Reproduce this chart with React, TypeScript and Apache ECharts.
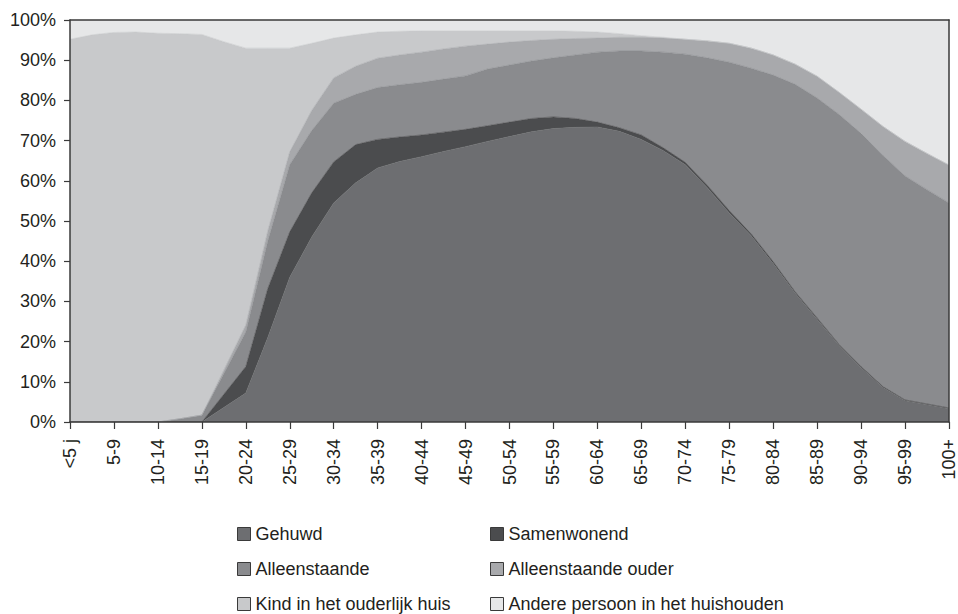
import React, { useEffect, useRef } from "react";
import * as echarts from "echarts";

// age groups shown on the axis (one label every 5 years)
const categories = [
  "<5 j", "5-9", "10-14", "15-19", "20-24", "25-29", "30-34", "35-39", "40-44", "45-49",
  "50-54", "55-59", "60-64", "65-69", "70-74", "75-79", "80-84", "85-89", "90-94", "95-99", "100+",
];

// sample positions: every 2.5 years of age (0 .. 100)
const ages = [
  "0", "2.5", "5", "7.5", "10", "12.5", "15", "17.5", "20", "22.5", "25", "27.5", "30", "32.5", "35", "37.5",
  "40", "42.5", "45", "47.5", "50", "52.5", "55", "57.5", "60", "62.5", "65", "67.5", "70", "72.5", "75",
  "77.5", "80", "82.5", "85", "87.5", "90", "92.5", "95", "97.5", "100",
];

const gehuwd = [0, 0, 0, 0, 0, 0, 0, 3.6, 7.2, 21, 36, 46, 54.5, 59.5, 63.2, 64.8, 66, 67.3, 68.5, 69.8, 71, 72.2, 73, 73.3, 73.4, 72.3, 70.3, 67.5, 64, 58.3, 52, 46.3, 39.4, 32, 25.5, 19, 13.5, 8.6, 5.3, 4.3, 3.3];
const samenwonend = [0, 0, 0, 0, 0, 0, 0, 3.3, 6.6, 12.2, 11.3, 11, 10.2, 9.5, 7.1, 6.1, 5.4, 4.8, 4.3, 3.9, 3.6, 3.3, 2.9, 2.2, 1.2, 0.9, 1.1, 0.7, 0.6, 0.6, 0.6, 0.5, 0.5, 0.4, 0.4, 0.3, 0.3, 0.2, 0.2, 0.2, 0.2];
const alleenstaande = [0, 0, 0, 0, 0, 0.8, 1.7, 5.1, 8.6, 11.8, 16.7, 15.5, 14.6, 12.5, 12.9, 13, 13.1, 13.2, 13.3, 14.1, 14.2, 14.3, 14.7, 15.8, 17.4, 19.1, 20.9, 23.8, 26.9, 31.7, 36.9, 41.2, 46.4, 51.6, 54.7, 57.2, 58, 57.5, 55.7, 53.3, 51];
const alleenstaandeOuder = [0, 0, 0, 0, 0, 0, 0, 0.9, 1.7, 2.5, 3.2, 5, 6.3, 7, 7.3, 7.4, 7.5, 7.5, 7.4, 6.2, 5.7, 5.1, 4.6, 4.1, 3.5, 3.4, 3.4, 3.5, 3.7, 4.2, 4.7, 5, 5, 5, 5.4, 5.5, 6, 7.2, 8.6, 9, 9.4];
const kind = [95.2, 96.3, 96.9, 97, 96.7, 95.8, 94.7, 81.7, 68.9, 45.5, 25.8, 16.7, 9.9, 7.8, 6.5, 5.9, 5.3, 4.5, 3.8, 3.3, 2.8, 2.4, 2.1, 1.8, 1.5, 0.9, 0.4, 0.2, 0, 0, 0, 0, 0, 0, 0, 0, 0, 0, 0, 0, 0];
const andere = [4.8, 3.7, 3.1, 3, 3.3, 3.4, 3.6, 5.4, 7, 7, 7, 5.8, 4.5, 3.7, 3, 2.8, 2.7, 2.7, 2.7, 2.7, 2.7, 2.7, 2.7, 2.8, 3, 3.4, 3.9, 4.3, 4.8, 5.2, 5.8, 7, 8.7, 11, 14, 18, 22.2, 26.5, 30.2, 33.2, 36.1];

const seriesNames = [
  "Gehuwd",
  "Samenwonend",
  "Alleenstaande",
  "Alleenstaande ouder",
  "Kind in het ouderlijk huis",
  "Andere persoon in het huishouden",
];
const seriesValues = [gehuwd, samenwonend, alleenstaande, alleenstaandeOuder, kind, andere];
const colors = ["#6d6e71", "#4b4c4e", "#8a8b8e", "#a8a9ac", "#c8c9cb", "#e6e7e8"];

const FONT = "'Liberation Sans', Arial, Helvetica, sans-serif";
const TEXT = "#231f20";
const AXIS = "#3a3a3a";

export default function App() {
  const ref = useRef<HTMLDivElement>(null);

  useEffect(() => {
    if (!ref.current) return;
    const chart = echarts.init(ref.current, null, { renderer: "svg" });

    const series = seriesNames.map((name, si) => ({
      name,
      type: "line",
      stack: "total",
      symbol: "none",
      showSymbol: false,
      data: seriesValues[si],
      lineStyle: { width: 0.6, color: colors[si] },
      itemStyle: { color: colors[si] },
      areaStyle: { color: colors[si], opacity: 1 },
      emphasis: { disabled: true },
    }));

    const legendCommon = {
      orient: "vertical",
      icon: "rect",
      itemWidth: 13,
      itemHeight: 13,
      itemGap: 17,
      top: 525,
      height: 120,
      padding: 0,
      selectedMode: false,
      textStyle: { fontSize: 18, color: TEXT, fontFamily: FONT },
      itemStyle: { borderColor: "#3a3a3a", borderWidth: 1 },
    };

    chart.setOption({
      animation: false,
      textStyle: { fontFamily: FONT },
      grid: { left: 70, right: 7, top: 20, bottom: 192, containLabel: false },
      legend: [
        { ...legendCommon, left: 237, data: [seriesNames[0], seriesNames[2], seriesNames[4]] },
        { ...legendCommon, left: 490, data: [seriesNames[1], seriesNames[3], seriesNames[5]] },
      ],
      xAxis: [
        {
          type: "category",
          data: ages,
          boundaryGap: false,
          z: 10,
          axisLine: { show: true, lineStyle: { color: AXIS, width: 1.5 } },
          axisTick: { show: true, interval: 1, length: 7, lineStyle: { color: AXIS, width: 1.2 } },
          splitLine: { show: false },
          axisLabel: {
            interval: 1,
            rotate: 90,
            margin: 17,
            fontSize: 18,
            color: TEXT,
            fontFamily: FONT,
            formatter: (_v: string, index: number) => categories[Math.round(index / 2)] ?? "",
          },
        },
        {
          type: "value",
          position: "top",
          min: 0,
          max: 100,
          z: 10,
          axisLine: { show: true, onZero: false, lineStyle: { color: AXIS, width: 1.5 } },
          axisTick: { show: false },
          axisLabel: { show: false },
          splitLine: { show: false },
        },
      ],
      yAxis: [
        {
          type: "value",
          min: 0,
          max: 100,
          interval: 10,
          z: 10,
          axisLine: { show: true, lineStyle: { color: AXIS, width: 1.5 } },
          axisTick: { show: true, length: 6, lineStyle: { color: AXIS, width: 1.2 } },
          splitLine: { show: false },
          axisLabel: {
            margin: 14,
            fontSize: 18,
            color: TEXT,
            fontFamily: FONT,
            formatter: "{value}%",
          },
        },
        {
          type: "value",
          position: "right",
          min: 0,
          max: 100,
          z: 10,
          axisLine: { show: true, onZero: false, lineStyle: { color: AXIS, width: 1.5 } },
          axisTick: { show: false },
          axisLabel: { show: false },
          splitLine: { show: false },
        },
      ],
      series,
    });

    return () => chart.dispose();
  }, []);

  return (
    <div
      ref={ref}
      style={{ position: "absolute", left: 0, top: 0, width: 958, height: 614, background: "#fff" }}
    />
  );
}
